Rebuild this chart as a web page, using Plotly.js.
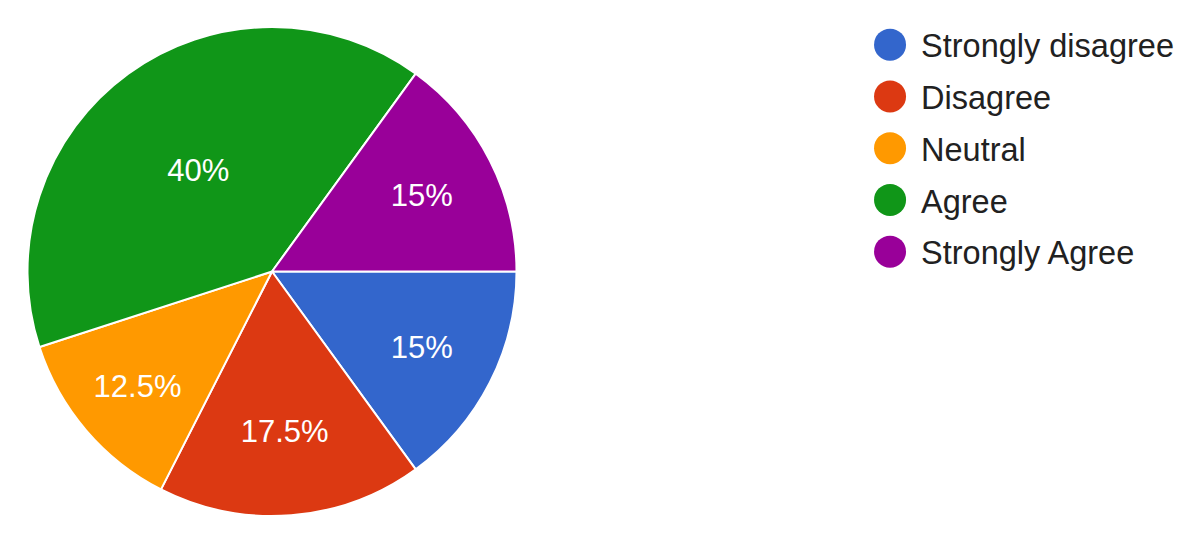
<!DOCTYPE html>
<html>
<head>
<meta charset="utf-8">
<script src="https://cdn.plot.ly/plotly-3.0.1.min.js"></script>
<style>
html,body{margin:0;padding:0;background:#fff;}
#chart{width:1200px;height:542px;}
</style>
</head>
<body>
<div id="chart"></div>
<script>
const categories = ['Strongly disagree', 'Disagree', 'Neutral', 'Agree', 'Strongly Agree'];
const percents = [15, 17.5, 12.5, 40, 15];
const colors = ['#3366cc', '#dc3912', '#ff9900', '#109618', '#990099'];
const FONT = '"Liberation Sans", Arial, Helvetica, sans-serif';

const pieTrace = {
  type: 'pie',
  labels: categories,
  values: percents,
  sort: false,
  direction: 'clockwise',
  rotation: 90,
  marker: {colors: colors, line: {color: '#ffffff', width: 2}},
  texttemplate: '%{value}%',
  textposition: 'inside',
  insidetextorientation: 'horizontal',
  textfont: {family: FONT, size: 31, color: '#ffffff'},
  showlegend: false,
  hoverinfo: 'label+percent',
  domain: {x: [27 / 1200, 517 / 1200], y: [1 - 516 / 542, 1 - 27 / 542]}
};

const legendTraces = categories.map((c, i) => ({
  type: 'scatter',
  x: [null], y: [null],
  mode: 'markers',
  name: c,
  legendgroup: c,
  marker: {color: colors[i], size: 16, symbol: 'circle'},
  hoverinfo: 'skip'
}));

const layout = {
  width: 1200, height: 542,
  margin: {l: 0, r: 0, t: 0, b: 0},
  paper_bgcolor: '#ffffff',
  plot_bgcolor: '#ffffff',
  showlegend: true,
  legend: {
    x: 0.7342, y: 0.9686, xanchor: 'left', yanchor: 'top',
    font: {family: FONT, size: 32.5, color: '#212121'},
    tracegroupgap: 6.5,
    bgcolor: 'rgba(0,0,0,0)'
  },
  xaxis: {visible: false},
  yaxis: {visible: false}
};

Plotly.newPlot('chart', [pieTrace].concat(legendTraces), layout, {staticPlot: true}).then(() => {
  document.querySelectorAll('#chart .legend [clip-path]').forEach(e => e.removeAttribute('clip-path'));
  document.querySelectorAll('#chart .legend .legendpoints path.scatterpts').forEach(p => {
    p.setAttribute('transform', 'translate(9,0) scale(2)');
  });
});
</script>
</body>
</html>
